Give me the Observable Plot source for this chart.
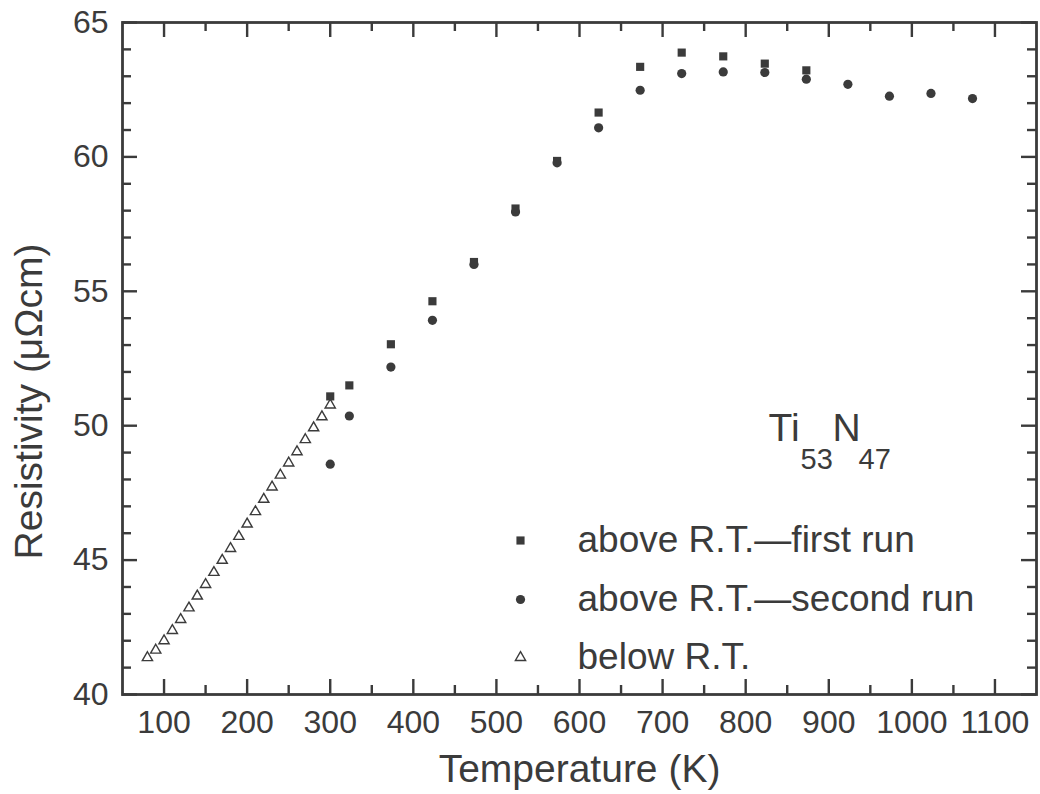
<!DOCTYPE html>
<html>
<head>
<meta charset="utf-8">
<script src="https://cdn.jsdelivr.net/npm/d3@7"></script>
<script src="https://cdn.jsdelivr.net/npm/@observablehq/plot@0.6"></script>
<style>
  html, body { margin: 0; padding: 0; background: #ffffff; }
  #chart { width: 1040px; height: 794px; }
</style>
</head>
<body>
<div id="chart"></div>
<script>
// ---- data ----
const belowT = [80, 90, 100, 110, 120, 130, 140, 150, 160, 170, 180, 190, 200, 210, 220, 230, 240, 250, 260, 270, 280, 290, 300];
const belowRho = [41.37, 41.65, 42.0, 42.38, 42.79, 43.22, 43.66, 44.09, 44.54, 44.99, 45.43, 45.88, 46.34, 46.8, 47.26, 47.72, 48.16, 48.61, 49.03, 49.48, 49.92, 50.33, 50.77];

const firstT = [300, 323, 373, 423, 473, 523, 573, 623, 673, 723, 773, 823, 873];
const firstRho = [51.09, 51.50, 53.03, 54.63, 56.09, 58.08, 59.85, 61.65, 63.35, 63.88, 63.74, 63.47, 63.22];

const secondT = [300, 323, 373, 423, 473, 523, 573, 623, 673, 723, 773, 823, 873, 923, 973, 1023, 1073];
const secondRho = [48.57, 50.36, 52.18, 53.92, 56.00, 57.95, 59.78, 61.08, 62.48, 63.10, 63.16, 63.14, 62.89, 62.70, 62.26, 62.36, 62.17];

const xMajorTicks = [100, 200, 300, 400, 500, 600, 700, 800, 900, 1000, 1100];
const xMinorTicks = [150, 250, 350, 450, 550, 650, 750, 850, 950, 1050];
const yMajorTicks = [40, 45, 50, 55, 60, 65];
const yMinorTicks = [41, 42, 43, 44, 46, 47, 48, 49, 51, 52, 53, 54, 56, 57, 58, 59, 61, 62, 63, 64];

const xLabel = "Temperature (K)";
const yLabel = "Resistivity (\u03BC\u03A9cm)";
const legendLabels = ["above R.T.\u2014first run", "above R.T.\u2014second run", "below R.T."];
const legendSymbols = ["square", "circle", "triangle"];
const compoundMain = ["Ti", "N"];
const compoundSub = ["53", "47"];

// ---- layout ----
const W = 1040, H = 794;
const mL = 122, mR = 4, mT = 22, mB = 100;
const frameW = W - mL - mR, frameH = H - mT - mB;
const ink = "#3b3b3b";
const font = "'Liberation Sans', Arial, Helvetica, sans-serif";

const below = belowT.map((t, i) => ({t, rho: belowRho[i]}));
const first = firstT.map((t, i) => ({t, rho: firstRho[i]}));
const second = secondT.map((t, i) => ({t, rho: secondRho[i]}));

const MAJ = 15, MIN = 9, TW = 2.4;

const marks = [
  // inward ticks on all four sides (rules trimmed with pixel insets)
  Plot.ruleX(xMajorTicks, {x: d => d, insetTop: frameH - MAJ, stroke: ink, strokeWidth: TW}),
  Plot.ruleX(xMinorTicks, {x: d => d, insetTop: frameH - MIN, stroke: ink, strokeWidth: TW}),
  Plot.ruleX(xMajorTicks, {x: d => d, insetBottom: frameH - MAJ, stroke: ink, strokeWidth: TW}),
  Plot.ruleX(xMinorTicks, {x: d => d, insetBottom: frameH - MIN, stroke: ink, strokeWidth: TW}),
  Plot.ruleY(yMajorTicks, {y: d => d, insetRight: frameW - MAJ, stroke: ink, strokeWidth: TW}),
  Plot.ruleY(yMinorTicks, {y: d => d, insetRight: frameW - MIN, stroke: ink, strokeWidth: TW}),
  Plot.ruleY(yMajorTicks, {y: d => d, insetLeft: frameW - MAJ, stroke: ink, strokeWidth: TW}),
  Plot.ruleY(yMinorTicks, {y: d => d, insetLeft: frameW - MIN, stroke: ink, strokeWidth: TW}),
  Plot.frame({stroke: ink, strokeWidth: 2.8}),

  // tick labels
  Plot.axisX(xMajorTicks, {anchor: "bottom", tickSize: 0, tickPadding: 16, fontSize: 32, fill: ink, label: null, tickFormat: d => `${d}`}),
  Plot.axisY(yMajorTicks, {anchor: "left", tickSize: 0, tickPadding: 14, fontSize: 32, fill: ink, label: null, tickFormat: d => `${d}`}),

  // axis titles
  Plot.text([xLabel], {text: d => d, frameAnchor: "bottom", dy: 75, fontSize: 39, fill: ink, textAnchor: "middle", lineAnchor: "middle"}),
  Plot.text([yLabel], {text: d => d, frameAnchor: "left", rotate: -90, dx: -93, dy: 43, fontSize: 39, fill: ink, textAnchor: "middle", lineAnchor: "middle"}),

  // data
  Plot.dot(below, {x: "t", y: "rho", symbol: "triangle", r: 3.8, stroke: ink, strokeWidth: 1.4, fill: "none"}),
  Plot.dot(second, {x: "t", y: "rho", symbol: "circle", r: 4.6, fill: ink, stroke: "none"}),
  Plot.dot(first, {x: "t", y: "rho", symbol: "square", r: 4.6, fill: ink, stroke: "none"}),

  // compound label
  Plot.text([compoundMain[0]], {text: d => d, frameAnchor: "top-left", dx: 646, dy: 406, fontSize: 39, fill: ink, textAnchor: "start", lineAnchor: "middle"}),
  Plot.text([compoundMain[1]], {text: d => d, frameAnchor: "top-left", dx: 710, dy: 406, fontSize: 39, fill: ink, textAnchor: "start", lineAnchor: "middle"}),
  Plot.text([compoundSub[0]], {text: d => d, frameAnchor: "top-left", dx: 678, dy: 437, fontSize: 29, fill: ink, textAnchor: "start", lineAnchor: "middle"}),
  Plot.text([compoundSub[1]], {text: d => d, frameAnchor: "top-left", dx: 736, dy: 437, fontSize: 29, fill: ink, textAnchor: "start", lineAnchor: "middle"}),
];

// legend rows
const rowDy = [518, 577, 635];
legendLabels.forEach((lab, i) => {
  const sym = legendSymbols[i];
  if (sym === "triangle") {
    marks.push(Plot.dot([lab], {frameAnchor: "top-left", dx: 398, dy: rowDy[i], symbol: sym, r: 3.8, stroke: ink, strokeWidth: 1.4, fill: "none"}));
  } else {
    marks.push(Plot.dot([lab], {frameAnchor: "top-left", dx: 398, dy: rowDy[i], symbol: sym, r: 4.6, fill: ink, stroke: "none"}));
  }
  marks.push(Plot.text([lab], {text: d => d, frameAnchor: "top-left", dx: 455, dy: rowDy[i], fontSize: 37, fill: ink, textAnchor: "start", lineAnchor: "middle"}));
});

const chart = Plot.plot({
  width: W,
  height: H,
  marginLeft: mL,
  marginRight: mR,
  marginTop: mT,
  marginBottom: mB,
  x: {domain: [50, 1150]},
  y: {domain: [40, 65]},
  style: {fontFamily: font, background: "#ffffff", color: ink, overflow: "visible"},
  marks
});
document.getElementById("chart").appendChild(chart);
</script>
</body>
</html>
